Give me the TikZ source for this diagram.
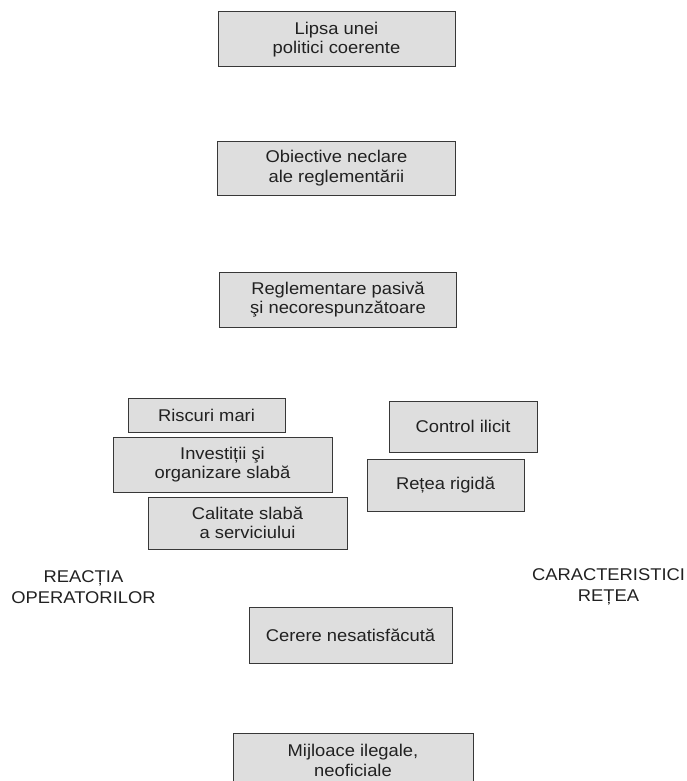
\documentclass[tikz,border=0pt]{standalone}
\usepackage{fontspec}
\setmainfont{Liberation Sans}[FakeStretch=1.08]
\usetikzlibrary{positioning}
\definecolor{boxfill}{gray}{0.87}
\definecolor{boxline}{gray}{0.22}
\definecolor{txt}{gray}{0.13}
\tikzset{
  factor/.style={draw=boxline, fill=boxfill, line width=1pt, inner sep=0pt,
    align=center, text=txt, font=\fontsize{17}{19.5}\selectfont},
  group/.style={align=center, text=txt, inner sep=0pt,
    font=\fontsize{17}{21.5}\selectfont},
}
\begin{document}
\begin{tikzpicture}[x=1pt,y=-1pt]
  \clip (0,0) rectangle (687,781);
  % Define nodes
  \node[factor, minimum width=237pt, minimum height=55pt] (lipsa) at (336.5,39.5) {Lipsa unei\\politici coerente};
  \node[factor, minimum width=238pt, minimum height=54pt, below=73pt of lipsa] (obj) {Obiective neclare\\ale reglementării};
  \node[factor, minimum width=237pt, minimum height=55pt, below=76pt of obj, xshift=1.5pt] (regl) {Reglementare pasivă\\şi necorespunzătoare};

  \node[factor, minimum width=157pt, minimum height=34pt] (risc) at (206.5,415) {Riscuri mari};
  \node[factor, minimum width=219pt, minimum height=55pt, below=4pt of risc, xshift=16pt] (inv) {Investiții şi\\organizare slabă};
  \node[factor, minimum width=199pt, minimum height=52pt, below=4pt of inv, xshift=25pt] (cal) {Calitate slabă\\a serviciului};

  \node[factor, minimum width=148pt, minimum height=51pt] (ctrl) at (463,426.5) {Control ilicit};
  \node[factor, minimum width=157pt, minimum height=52pt, below=6pt of ctrl, xshift=-17.5pt] (ret) {Rețea rigidă};

  \node[factor, minimum width=203pt, minimum height=56pt] (cer) at (350.5,635) {Cerere nesatisfăcută};
  \node[factor, minimum width=240pt, minimum height=55pt, below=69pt of cer, xshift=2.5pt] (mij) {Mijloace ilegale,\\neoficiale};

  \node[group] (reac) at (83.5,587) {REACȚIA\\OPERATORILOR};
  \node[group] (car) at (608.5,587) {CARACTERISTICI\\REȚEA};
\end{tikzpicture}
\end{document}
